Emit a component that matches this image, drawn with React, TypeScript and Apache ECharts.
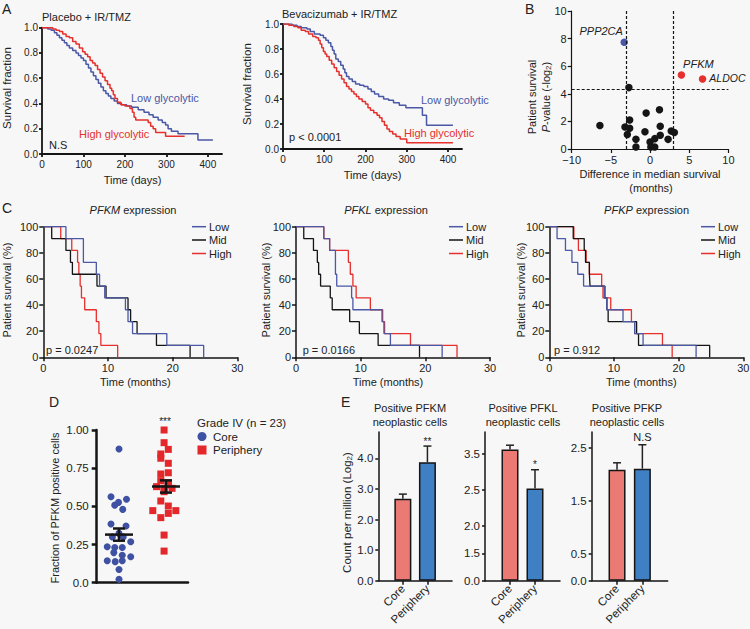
import React, { useEffect, useRef } from 'react';
import * as echarts from 'echarts';

const FONT = '"Liberation Sans", Arial, Helvetica, sans-serif';
const BLUE = '#4a58a6';
const RED = '#e5302d';
const BLACK = '#151515';
const TXT = '#222222';
const CORE_BAR = '#ec7a74';
const PERI_BAR = '#3f7fc4';
const CORE_DOT = '#3f51a2';
const PERI_DOT = '#e3272b';

// ---------- Panel A: Kaplan-Meier (days, survival fraction) ----------
const a1Low: [number, number][] = [[0, 1], [14, 0.99], [22, 0.98], [30, 0.96], [36, 0.94], [42, 0.92], [48, 0.9], [54, 0.88], [60, 0.86], [66, 0.84], [74, 0.82], [82, 0.8], [88, 0.78], [94, 0.76], [100, 0.74], [106, 0.71], [112, 0.68], [118, 0.65], [124, 0.62], [130, 0.59], [136, 0.56], [142, 0.53], [148, 0.5], [154, 0.48], [160, 0.46], [166, 0.44], [174, 0.42], [182, 0.4], [192, 0.39], [204, 0.38], [216, 0.37], [232, 0.35], [246, 0.33], [258, 0.31], [268, 0.29], [280, 0.27], [290, 0.25], [298, 0.23], [304, 0.2], [312, 0.18], [328, 0.16], [376, 0.11], [412, 0.11]];
const a1High: [number, number][] = [[0, 1], [26, 0.99], [34, 0.98], [42, 0.97], [50, 0.95], [58, 0.93], [66, 0.92], [74, 0.89], [82, 0.87], [90, 0.84], [98, 0.81], [104, 0.79], [110, 0.77], [116, 0.74], [122, 0.72], [128, 0.7], [134, 0.67], [140, 0.64], [146, 0.61], [152, 0.58], [158, 0.55], [164, 0.52], [168, 0.5], [172, 0.47], [176, 0.44], [182, 0.41], [190, 0.39], [200, 0.38], [212, 0.36], [218, 0.33], [222, 0.29], [226, 0.27], [256, 0.25], [262, 0.22], [268, 0.2], [274, 0.17], [298, 0.14], [344, 0.14]];
const a2Low: [number, number][] = [[0, 1], [22, 0.99], [34, 0.98], [44, 0.97], [58, 0.96], [66, 0.94], [76, 0.92], [90, 0.91], [98, 0.89], [104, 0.87], [110, 0.85], [116, 0.82], [120, 0.79], [124, 0.76], [128, 0.72], [134, 0.7], [140, 0.67], [146, 0.64], [150, 0.61], [154, 0.58], [160, 0.56], [168, 0.54], [176, 0.52], [186, 0.51], [196, 0.5], [206, 0.48], [214, 0.46], [222, 0.44], [232, 0.42], [244, 0.4], [256, 0.39], [268, 0.37], [282, 0.35], [298, 0.33], [338, 0.27], [348, 0.19], [412, 0.19]];
const a2High: [number, number][] = [[0, 1], [14, 0.99], [26, 0.98], [36, 0.97], [44, 0.95], [54, 0.94], [62, 0.92], [72, 0.9], [80, 0.89], [86, 0.87], [90, 0.84], [94, 0.81], [98, 0.78], [102, 0.76], [106, 0.74], [112, 0.71], [118, 0.68], [124, 0.65], [130, 0.62], [136, 0.59], [142, 0.56], [148, 0.53], [154, 0.5], [160, 0.48], [166, 0.46], [172, 0.44], [178, 0.42], [184, 0.4], [192, 0.38], [200, 0.36], [206, 0.33], [212, 0.31], [220, 0.29], [228, 0.27], [234, 0.25], [240, 0.22], [246, 0.19], [252, 0.16], [258, 0.14], [266, 0.12], [274, 0.1], [284, 0.08], [300, 0.05], [412, 0.05]];

// ---------- Panel B: volcano-like scatter ----------
const bOtherX = [-6.4, -3.2, -2.6, -2.6, -2.9, -1.8, -1.8, -0.5, -0.65, 0, 0.1, 0.6, 0.6, 1.2, 1.3, 1.3, 2.3, 2.7, 3.1, -2.7];
const bOtherY = [1.7, 1.6, 1.5, 2.1, 1.05, 0.7, 0.15, 2.6, 1.25, 0.5, 0.15, 0.15, 0.75, 2.85, 1.65, 1.0, 0.7, 1.3, 1.2, 4.45];
const bHitNames = ['PPP2CA', 'PFKM', 'ALDOC'];
const bHitX = [-3.3, 4.0, 6.7];
const bHitY = [7.73, 5.36, 5.07];
const bCutX = [-3, 3];
const bCutY = 4.32;

// ---------- Panel C: Kaplan-Meier (months, %) ----------
const c1Low: [number, number][] = [[0, 100], [3.5, 90.9], [6.2, 72.7], [8.2, 63.6], [8.7, 54.5], [9.5, 45.5], [12.7, 36.4], [13.1, 27.3], [13.8, 18.2], [19.1, 9.1], [24.8, 0]];
const c1Mid: [number, number][] = [[0, 100], [1.3, 90.9], [3.5, 81.8], [4.2, 72.7], [4.5, 63.6], [8.3, 54.5], [9.7, 45.5], [13.1, 36.4], [13.5, 27.3], [14.5, 18.2], [17.5, 9.1], [22.7, 0]];
const c1High: [number, number][] = [[0, 100], [2.7, 90.9], [4.4, 81.8], [5.3, 72.7], [5.5, 63.6], [5.7, 54.5], [5.9, 45.5], [6.4, 36.4], [8.2, 27.3], [8.6, 18.2], [8.9, 9.1], [11.5, 0]];
const c2Low: [number, number][] = [[0, 100], [4.3, 90.9], [5.2, 81.8], [6.1, 63.6], [6.3, 54.5], [8.6, 45.5], [8.8, 36.4], [13.3, 27.3], [13.6, 18.2], [14.6, 9.1], [22.6, 0]];
const c2Mid: [number, number][] = [[0, 100], [1.2, 90.9], [2.7, 81.8], [3.3, 72.7], [3.5, 63.6], [3.8, 54.5], [5.3, 45.5], [5.6, 36.4], [8.3, 27.3], [9.8, 18.2], [12.7, 9.1], [19.1, 0]];
const c2High: [number, number][] = [[0, 100], [4.3, 90.9], [5.2, 81.8], [8.1, 72.7], [8.4, 63.6], [8.8, 54.5], [9.3, 45.5], [11.5, 36.4], [13.4, 27.3], [13.7, 18.2], [17.7, 9.1], [24.9, 0]];
const c3Low: [number, number][] = [[0, 100], [1.2, 90.9], [2.5, 81.8], [3.5, 72.7], [4.4, 63.6], [5.3, 54.5], [8.5, 45.5], [8.9, 36.4], [11.4, 27.3], [13.2, 18.2], [14.5, 9.1], [22.7, 0]];
const c3Mid: [number, number][] = [[0, 100], [3.7, 90.9], [5.4, 81.8], [5.6, 72.7], [6.2, 63.6], [6.3, 54.5], [8.6, 45.5], [8.9, 36.4], [9.1, 27.3], [13.5, 18.2], [13.8, 9.1], [24.8, 0]];
const c3High: [number, number][] = [[0, 100], [3.8, 90.9], [4.5, 81.8], [5.7, 72.7], [6.2, 63.6], [8.1, 54.5], [8.3, 45.5], [9.5, 36.4], [12.7, 27.3], [13.2, 18.2], [17.5, 9.1], [19.0, 0]];
const cGenes = ['PFKM', 'PFKL', 'PFKP'];
const cPvals = ['p = 0.0247', 'p = 0.0166', 'p = 0.912'];
const cGroups = ['Low', 'Mid', 'High'];

// ---------- Panel D: fraction of PFKM positive cells ----------
const dCoreDx = [0, -0.17, -0.01, -0.09, 0.16, 0.08, -0.17, 0.15, 0, -0.14, 0.09, 0.25, -0.25, -0.09, 0.07, -0.11, 0.07, 0.25, -0.25, -0.08, 0.07, 0, 0];
const dCoreVal = [0.875, 0.563, 0.526, 0.508, 0.546, 0.48, 0.384, 0.371, 0.323, 0.3, 0.3, 0.268, 0.236, 0.231, 0.231, 0.197, 0.18, 0.17, 0.144, 0.138, 0.144, 0.087, 0.022];
const dPeriDx = [-0.04, -0.04, 0.05, -0.11, -0.11, 0.05, 0.05, -0.11, -0.11, 0.05, -0.2, -0.04, 0.13, -0.04, -0.11, 0.05, -0.28, 0.21, 0.05, -0.11, -0.04, -0.04, 0.05];
const dPeriVal = [1.0, 0.917, 0.873, 0.843, 0.815, 0.782, 0.72, 0.712, 0.668, 0.655, 0.629, 0.618, 0.618, 0.596, 0.535, 0.502, 0.472, 0.472, 0.454, 0.426, 0.312, 0.207, 0.64];
const dMean = [0.315, 0.63];
const dSem = [0.04, 0.04];

// ---------- Panel E: bars (Log2 CPM) ----------
const eCategories = ['Core', 'Periphery'];
const eTitles = ['PFKM', 'PFKL', 'PFKP'];
const e1Mean = [2.68, 3.87];
const e1Err = [2.83, 4.4];
const e1Sig = ['', '**'];
const e2Mean = [3.61, 2.55];
const e2Err = [3.73, 3.06];
const e2Sig = ['', '*'];
const e3Mean = [2.09, 2.11];
const e3Err = [2.22, 2.56];
const e3Sig = ['', 'N.S'];
const e2TickLabels = [0, 1.5, 2.0, 2.5, 3.5];
const e2TickPos = [0, 82, 164, 272, 382];

function e2Pos(v: number) {
  for (let i = 1; i < e2TickLabels.length; i++) {
    if (v <= e2TickLabels[i] || i === e2TickLabels.length - 1) {
      const a = e2TickLabels[i - 1], b = e2TickLabels[i];
      return e2TickPos[i - 1] + ((v - a) / (b - a)) * (e2TickPos[i] - e2TickPos[i - 1]);
    }
  }
  return 0;
}

const grids = [
  { left: 42, top: 27.7, width: 180, height: 126.3 },
  { left: 283, top: 24, width: 179, height: 125 },
  { left: 571.7, top: 11, width: 156.7, height: 138 },
  { left: 43.3, top: 226.7, width: 194, height: 130.6 },
  { left: 296, top: 226.7, width: 194, height: 130.6 },
  { left: 549.3, top: 226.7, width: 194, height: 130.6 },
  { left: 96.7, top: 430, width: 91.3, height: 152.7 },
  { left: 378.3, top: 432, width: 73.7, height: 148.7 },
  { left: 485, top: 432, width: 75, height: 148.7 },
  { left: 591.7, top: 432, width: 76, height: 148.7 },
];

function ax(gridIndex: number, o: any) {
  const axis: any = {
    type: 'value',
    gridIndex,
    min: o.min,
    max: o.max,
    splitLine: { show: false },
    axisLine: { show: true, onZero: false, lineStyle: { color: BLACK, width: o.lw } },
    axisTick: { show: o.ticks !== false, length: o.tickLen ?? 4, lineStyle: { color: BLACK, width: o.lw } },
    axisLabel: {
      show: o.labels !== false,
      color: TXT,
      fontSize: o.fs ?? 11,
      fontFamily: FONT,
      margin: o.margin ?? 4,
      rotate: o.rotate ?? 0,
    },
  };
  if (o.fmt) axis.axisLabel.formatter = o.fmt;
  if (o.interval != null) axis.interval = o.interval;
  if (o.values) {
    axis.axisTick.customValues = o.values;
    axis.axisLabel.customValues = o.values;
  }
  return axis;
}

function km(name: string, data: [number, number][], idx: number, color: string, width: number) {
  return {
    type: 'line', name, xAxisIndex: idx, yAxisIndex: idx, data, step: 'end',
    symbol: 'none', showSymbol: false, silent: true,
    lineStyle: { color, width }, itemStyle: { color }, z: 3,
  };
}

function T(text: string, x: number, y: number, o: any = {}) {
  const size = o.size ?? 11;
  const align = o.align ?? 'left';
  const style: any = {
    text, fill: o.color ?? TXT,
    font: `${o.italic ? 'italic ' : ''}${o.bold ? 'bold ' : ''}${size}px ${FONT}`,
    align, verticalAlign: 'middle', textAlign: align, textVerticalAlign: 'middle',
  };
  if (o.rich) { style.rich = o.rich; style.lineHeight = o.lineHeight ?? 14; }
  return { type: 'text', x, y, rotation: o.rot ?? 0, silent: true, z: 10, style };
}

const richBase = (size: number) => ({
  i: { fontStyle: 'italic', fontSize: size, fontFamily: FONT, fill: TXT, lineHeight: 14 },
  s: { fontSize: 8, fontFamily: FONT, fill: TXT, verticalAlign: 'bottom', lineHeight: 8 },
});

function eSeries(idx: number, mean: number[], err: number[], sig: string[], map: (v: number) => number) {
  return [
    {
      type: 'bar', xAxisIndex: idx, yAxisIndex: idx, barWidth: 17, silent: true,
      itemStyle: { borderColor: BLACK, borderWidth: 1.5 },
      data: mean.map((m, i) => ({ value: [i + 1, map(m)], itemStyle: { color: i === 0 ? CORE_BAR : PERI_BAR } })),
    },
    {
      type: 'custom', xAxisIndex: idx, yAxisIndex: idx, silent: true, z: 5,
      data: mean.map((m, i) => [i + 1, map(m), map(err[i])]),
      renderItem: (params: any, api: any) => {
        const x = api.value(0);
        const p0 = api.coord([x, api.value(1)]);
        const p1 = api.coord([x, api.value(2)]);
        const st = { stroke: '#222', lineWidth: 1.5 };
        const s = sig[params.dataIndex];
        const children: any[] = [
          { type: 'line', shape: { x1: p0[0], y1: p0[1], x2: p1[0], y2: p1[1] }, style: st },
          { type: 'line', shape: { x1: p1[0] - 4, y1: p1[1], x2: p1[0] + 4, y2: p1[1] }, style: st },
        ];
        if (s) {
          const star = s.indexOf('*') >= 0;
          children.push({
            type: 'text', x: p1[0], y: p1[1] - (star ? 5 : 8),
            style: { text: s, font: `${star ? 10 : 11}px ${FONT}`, fill: TXT, align: 'center', verticalAlign: 'middle', textAlign: 'center', textVerticalAlign: 'middle' },
          });
        }
        return { type: 'group', children };
      },
    },
  ];
}

function buildOption() {
  const xAxis: any[] = [];
  const yAxis: any[] = [];
  // A
  for (const g of [0, 1]) {
    xAxis.push(ax(g, { min: 0, max: 434, values: [0, 100, 200, 300, 400], lw: 1.8, fs: 10, margin: 5, tickLen: 3 }));
    yAxis.push(ax(g, { min: 0, max: 1, interval: 0.2, lw: 1.8, fs: 10, margin: 4, tickLen: 3, fmt: (v: number) => v.toFixed(1) }));
  }
  // B
  xAxis.push(ax(2, { min: -10, max: 10, interval: 5, lw: 1.2, fs: 11, margin: 5, fmt: (v: number) => (v < 0 ? '\u2212' + -v : String(v)) }));
  yAxis.push(ax(2, { min: 0, max: 10, interval: 2, lw: 1.2, fs: 11, margin: 5 }));
  // C
  for (const g of [3, 4, 5]) {
    xAxis.push(ax(g, { min: 0, max: 30, interval: 10, lw: 1.5, fs: 11, margin: 5 }));
    yAxis.push(ax(g, { min: 0, max: 100, interval: 20, lw: 1.5, fs: 11, margin: 5 }));
  }
  // D
  xAxis.push(ax(6, { min: 0.526, max: 2.469, lw: 2.5, ticks: false, labels: false }));
  yAxis.push(ax(6, { min: 0, max: 1, interval: 0.25, lw: 2.5, fs: 11.5, margin: 8, tickLen: 5, fmt: (v: number) => (v === 0 ? '0.0' : v.toFixed(2)) }));
  // E
  for (const g of [7, 8, 9]) {
    xAxis.push(ax(g, { min: 0, max: 3, values: [1, 2], lw: 1.5, fs: 11.5, rotate: 45, margin: 6, fmt: (v: number) => eCategories[v - 1] ?? '' }));
  }
  yAxis.push(ax(7, { min: 0, max: 4.86, values: [0, 1, 2, 3, 4], lw: 1.5, fs: 11.5, margin: 5, tickLen: 3, fmt: (v: number) => v.toFixed(1) }));
  yAxis.push(ax(8, { min: 0, max: 447, values: e2TickPos, lw: 1.5, fs: 11.5, margin: 5, tickLen: 3, fmt: (v: number) => { const k = e2TickPos.indexOf(v); return k >= 0 ? e2TickLabels[k].toFixed(1) : ''; } }));
  yAxis.push(ax(9, { min: 0, max: 2.8, values: [0, 0.5, 1.5, 2.5], lw: 1.5, fs: 11.5, margin: 5, tickLen: 3, fmt: (v: number) => v.toFixed(1) }));

  const series: any[] = [];
  series.push(km('Low glycolytic', a1Low, 0, BLUE, 1.5));
  series.push(km('High glycolytic', a1High, 0, RED, 1.5));
  series.push(km('Low glycolytic', a2Low, 1, BLUE, 1.5));
  series.push(km('High glycolytic', a2High, 1, RED, 1.5));

  series.push({
    type: 'scatter', xAxisIndex: 2, yAxisIndex: 2, silent: true, symbolSize: 7.5,
    itemStyle: { color: BLACK, opacity: 1 },
    data: bOtherX.map((x, i) => [x, bOtherY[i]]),
    markLine: {
      silent: true, symbol: ['none', 'none'], label: { show: false },
      lineStyle: { color: BLACK, width: 1.2, type: [3, 2] },
      data: [{ xAxis: bCutX[0] }, { xAxis: bCutX[1] }, { yAxis: bCutY }],
    },
  });
  const hitColors = [BLUE, RED, RED];
  const hitLabels: any[] = [
    { position: 'top', offset: [-23, 2.5], fontSize: 11 },
    { position: 'top', offset: [17, 3], fontSize: 11 },
    { position: 'right', distance: 3, offset: [0, -1], fontSize: 10.5 },
  ];
  series.push({
    type: 'scatter', xAxisIndex: 2, yAxisIndex: 2, silent: true, symbolSize: 7.5, z: 4,
    itemStyle: { opacity: 1 },
    data: bHitNames.map((n, i) => ({
      value: [bHitX[i], bHitY[i]],
      itemStyle: { color: hitColors[i], opacity: 1 },
      label: { show: true, formatter: n, fontStyle: 'italic', fontFamily: FONT, color: TXT, opacity: 1, ...hitLabels[i] },
    })),
  });

  const cSets = [[c1Low, c1Mid, c1High], [c2Low, c2Mid, c2High], [c3Low, c3Mid, c3High]];
  const cColors = [BLUE, BLACK, RED];
  cSets.forEach((set, p) => {
    [2, 1, 0].forEach((k) => series.push(km(cGroups[k], set[k], 3 + p, cColors[k], 1.3)));
  });

  series.push({
    type: 'scatter', xAxisIndex: 6, yAxisIndex: 6, silent: true, symbol: 'circle', symbolSize: 7,
    itemStyle: { color: CORE_DOT, opacity: 1 }, data: dCoreDx.map((dx, i) => [1 + dx, dCoreVal[i]]),
  });
  series.push({
    type: 'scatter', xAxisIndex: 6, yAxisIndex: 6, silent: true, symbol: 'rect', symbolSize: 7,
    itemStyle: { color: PERI_DOT, opacity: 1 }, data: dPeriDx.map((dx, i) => [2 + dx, dPeriVal[i]]),
  });
  series.push({
    type: 'custom', xAxisIndex: 6, yAxisIndex: 6, silent: true, z: 6,
    data: dMean.map((m, i) => [i + 1, m, dSem[i]]),
    renderItem: (params: any, api: any) => {
      const x = api.value(0), m = api.value(1), s = api.value(2);
      const c = api.coord([x, m]), t = api.coord([x, m + s]), b = api.coord([x, m - s]);
      const st = { stroke: BLACK, lineWidth: 2.5 };
      return {
        type: 'group', children: [
          { type: 'line', shape: { x1: c[0] - 14, y1: c[1], x2: c[0] + 14, y2: c[1] }, style: st },
          { type: 'line', shape: { x1: t[0], y1: t[1], x2: b[0], y2: b[1] }, style: st },
          { type: 'line', shape: { x1: t[0] - 6, y1: t[1], x2: t[0] + 6, y2: t[1] }, style: st },
          { type: 'line', shape: { x1: b[0] - 6, y1: b[1], x2: b[0] + 6, y2: b[1] }, style: st },
        ],
      };
    },
  });

  series.push(...eSeries(7, e1Mean, e1Err, e1Sig, (v) => v));
  series.push(...eSeries(8, e2Mean, e2Err, e2Sig, e2Pos));
  series.push(...eSeries(9, e3Mean, e3Err, e3Sig, (v) => v));

  const g: any[] = [];
  // Panel letters
  g.push(T('A', 2, 8.5, { size: 14 }));
  g.push(T('B', 525, 8.5, { size: 14 }));
  g.push(T('C', 2, 208, { size: 14 }));
  g.push(T('D', 49, 402, { size: 14 }));
  g.push(T('E', 341, 402, { size: 14 }));
  // A
  g.push(T('Placebo + IR/TMZ', 42, 16.7));
  g.push(T('Bevacizumab + IR/TMZ', 282, 14.3));
  g.push(T('Survival fraction', 7, 88, { rot: Math.PI / 2, align: 'center', size: 11.5 }));
  g.push(T('Survival fraction', 247, 84, { rot: Math.PI / 2, align: 'center', size: 11.5 }));
  g.push(T('Time (days)', 132.5, 180, { align: 'center' }));
  g.push(T('Time (days)', 372.5, 175, { align: 'center' }));
  g.push(T('Low glycolytic', 131, 98, { color: BLUE }));
  g.push(T('High glycolytic', 79, 134, { color: RED }));
  g.push(T('N.S', 49, 145));
  g.push(T('Low glycolytic', 421, 100, { color: BLUE }));
  g.push(T('High glycolytic', 404, 133, { color: RED }));
  g.push(T('p < 0.0001', 289, 137));
  // B
  g.push(T('Patient survival', 532.3, 97, { rot: Math.PI / 2, align: 'center' }));
  g.push(T('{i|P}-value (-log{s|2})', 545.7, 97, { rot: Math.PI / 2, align: 'center', rich: richBase(11) }));
  g.push(T('Difference in median survival', 650, 174.3, { align: 'center' }));
  g.push(T('(months)', 651, 188.3, { align: 'center' }));
  // C
  const cTitleX = [133, 386, 646.6];
  const cAxisLeft = [43.3, 296, 549.3];
  const cYLabX = [7, 266, 521];
  const cLegLine = [192, 449, 701];
  const cPx = [46, 302.7, 554];
  for (let p = 0; p < 3; p++) {
    g.push(T(`{i|${cGenes[p]}} expression`, cTitleX[p], 210, { align: 'center', rich: richBase(11) }));
    g.push(T('Patient survival (%)', cYLabX[p], 290, { rot: Math.PI / 2, align: 'center' }));
    g.push(T('Time (months)', cAxisLeft[p] + 92, 381.7, { align: 'center' }));
    g.push(T(cPvals[p], cPx[p], 350));
    const rows = [226.7, 240, 253.5];
    for (let k = 0; k < 3; k++) {
      g.push({ type: 'line', silent: true, z: 10, shape: { x1: cLegLine[p], y1: rows[k], x2: cLegLine[p] + 14, y2: rows[k] }, style: { stroke: cColors[k], lineWidth: 1.5 } });
      g.push(T(cGroups[k], cLegLine[p] + 17, rows[k]));
    }
  }
  // D
  g.push(T('***', 165, 421, { align: 'center', size: 10 }));
  g.push(T('Grade IV (n = 23)', 197, 423, { size: 11.5 }));
  g.push({ type: 'circle', silent: true, z: 10, shape: { cx: 202, cy: 436.5, r: 4.5 }, style: { fill: CORE_DOT } });
  g.push({ type: 'rect', silent: true, z: 10, shape: { x: 197.5, y: 445.5, width: 9, height: 9 }, style: { fill: PERI_DOT } });
  g.push(T('Core', 213, 436.5, { size: 11.5 }));
  g.push(T('Periphery', 213, 450, { size: 11.5 }));
  g.push(T('Fraction of PFKM positive cells', 55, 508, { rot: Math.PI / 2, align: 'center' }));
  // E
  const eTitleX = [410, 523, 627];
  for (let p = 0; p < 3; p++) {
    g.push(T(`Positive ${eTitles[p]}`, eTitleX[p], 408, { align: 'center' }));
    g.push(T('neoplastic cells', eTitleX[p], 421.5, { align: 'center' }));
  }
  g.push(T('Count per million (Log{s|2})', 346.7, 512.5, { rot: Math.PI / 2, align: 'center', size: 11.5, rich: richBase(11.5) }));

  return {
    animation: false,
    backgroundColor: '#f7f7f7',
    textStyle: { fontFamily: FONT },
    grid: grids.map((gr) => ({ ...gr, containLabel: false, outerBoundsMode: 'none' })),
    xAxis,
    yAxis,
    series,
    graphic: { elements: g },
  };
}

export default function App() {
  const ref = useRef<HTMLDivElement>(null);
  useEffect(() => {
    if (!ref.current) return;
    const chart = echarts.init(ref.current, null, { renderer: 'svg' });
    chart.setOption(buildOption() as any);
    return () => chart.dispose();
  }, []);
  return <div ref={ref} style={{ position: 'absolute', left: 0, top: 0, width: 750, height: 629 }} />;
}
